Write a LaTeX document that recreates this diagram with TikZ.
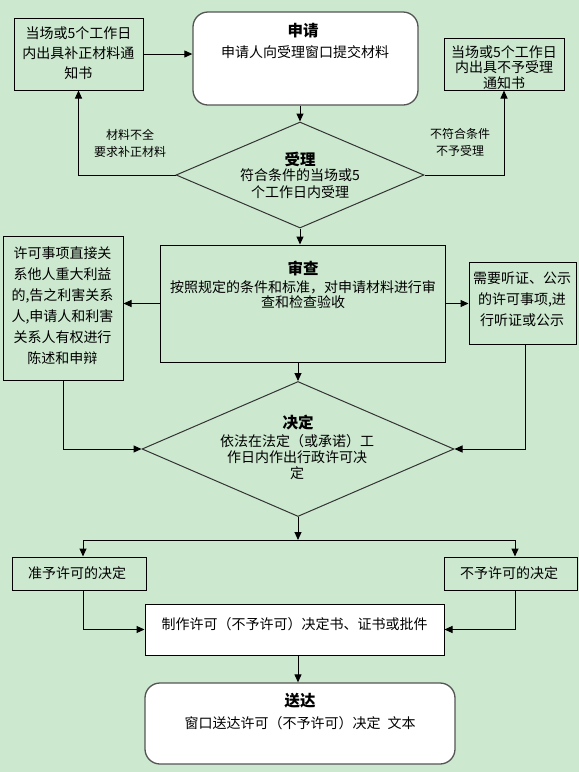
\documentclass[tikz,border=0pt]{standalone}
\usepackage{fontspec}
\newfontfamily\cjk{Noto Sans CJK SC}
\usetikzlibrary{arrows.meta,shapes.geometric,calc}
\definecolor{bg}{HTML}{CCE8CF}
\definecolor{rbord}{HTML}{555555}
\definecolor{dline}{HTML}{333333}
\begin{document}
\begin{tikzpicture}[x=1pt,y=-1pt,
  sbox/.style={draw=black, line width=1pt, inner sep=0pt, rectangle},
  rbox/.style={draw=rbord, line width=1.3pt, fill=white, inner sep=0pt, rectangle, rounded corners=15pt},
  dia/.style={draw=dline, line width=1pt, diamond, inner sep=0pt, aspect=1},
  arr/.style={draw=black, line width=1pt, -{Triangle[length=8pt,width=7pt]}},
  plain/.style={draw=black, line width=1pt},
  txt/.style={font=\cjk\fontsize{14pt}{20pt}\selectfont, align=center, inner sep=0pt},
  ttl/.style={font=\cjk\bfseries\fontsize{15.5pt}{18pt}\selectfont, align=center, inner sep=0pt},
  lbl/.style={font=\cjk\fontsize{12pt}{17pt}\selectfont, align=center, inner sep=0pt}]
\fill[bg] (0,0) rectangle (579,772);
\useasboundingbox (0,0) rectangle (579,772);

% shapes
\node[sbox, minimum width=129pt, minimum height=72pt] (lb) at (78.5,54) {};
\node[rbox, minimum width=225pt, minimum height=93pt] (sq) at (305.5,58.5) {};
\node[sbox, minimum width=120pt, minimum height=52pt] (rb) at (504,64) {};
\node[dia, minimum width=248pt, minimum height=106pt] (d1) at (300,175) {};
\node[sbox, minimum width=285pt, minimum height=117pt] (sc) at (302.5,303.5) {};
\node[sbox, minimum width=120pt, minimum height=144pt] (lr) at (63,308) {};
\node[sbox, minimum width=107pt, minimum height=82pt] (rr) at (522.5,303) {};
\node[dia, minimum width=312pt, minimum height=135pt] (d2) at (298,449) {};
\node[sbox, minimum width=134pt, minimum height=33pt] (zy) at (79,573.5) {};
\node[sbox, minimum width=133pt, minimum height=33pt] (by) at (510.5,573.5) {};
\node[sbox, fill=white, minimum width=299pt, minimum height=51pt] (zz) at (294.5,629.5) {};
\node[rbox, minimum width=310pt, minimum height=81pt] (sd) at (300,723.5) {};

% texts
\node[txt] (tlb) at (78.5,53) {当场或5个工作日\\内出具补正材料通\\知书};
\node[ttl] (tsq1) at (303,31) {申请};
\node[txt] (tsq2) at (305,52) {申请人向受理窗口提交材料};
\node[txt, font=\cjk\fontsize{14pt}{15.5pt}\selectfont] (trb) at (504,67.5) {当场或5个工作日\\内出具不予受理\\通知书};
\node[lbl] (tl1) at (130,143.5) {材料不全\\要求补正材料};
\node[lbl] (tl2) at (460,142.5) {不符合条件\\不予受理};
\node[ttl] (td1a) at (300,159) {受理};
\node[txt, font=\cjk\fontsize{14pt}{17pt}\selectfont] (td1b) at (300,183.5) {符合条件的当场或5\\个工作日内受理};
\node[ttl] (tsc1) at (303,268) {审查};
\node[txt, font=\cjk\fontsize{14pt}{15.5pt}\selectfont] (tsc2) at (303,294.5) {按照规定的条件和标准，对申请材料进行审\\查和检查验收};
\node[txt, font=\cjk\fontsize{14pt}{21pt}\selectfont] (tlr) at (62.5,305.5) {许可事项直接关\\系他人重大利益\\的,告之利害关系\\人,申请人和利害\\关系人有权进行\\陈述和申辩};
\node[txt, font=\cjk\fontsize{14pt}{21pt}\selectfont] (trr) at (522,299) {需要听证、公示\\的许可事项,进\\行听证或公示};
\node[ttl] (td2a) at (298,423) {决定};
\node[txt, font=\cjk\fontsize{14pt}{16pt}\selectfont] (td2b) at (297,457) {依法在法定（或承诺）工\\作日内作出行政许可决\\定};
\node[txt] (tzy) at (77,573) {准予许可的决定};
\node[txt] (tby) at (509,573) {不予许可的决定};
\node[txt] (tzz) at (294.5,624) {制作许可（不予许可）决定书、证书或批件};
\node[ttl] (tsd1) at (300,701) {送达};
\node[txt] (tsd2) at (300,723) {窗口送达许可（不予许可）决定\hspace{0.5em}文本};

% connectors
\draw[arr] (lb.east) -- (sq.west |- lb.east);
\draw[arr] (sq.south -| d1.north) -- (d1.north);
\draw[arr] (d1.west) -| (lb.south);
\draw[arr] (d1.east) -| (rb.south);
\draw[arr] (d1.south) -- (d1.south |- sc.north);
\draw[arr] (sc.west) -- (sc.west -| lr.east);
\draw[arr] (sc.east) -- (sc.east -| rr.west);
\draw[arr] (sc.south -| d2.north) -- (d2.north);
\draw[arr] (lr.south) |- (d2.west);
\draw[arr] ([xshift=3pt]rr.south) |- (d2.east);
\coordinate (jc) at (298,540);
\coordinate (jl) at (83,540);
\coordinate (jr) at (515,540);
\draw[arr] (d2.south) -- (jc);
\draw[plain] (jl) -- (jr);
\draw[arr] (jl) -- (jl |- zy.north);
\draw[arr] (jr) -- (jr |- by.north);
\draw[arr] (jl |- zy.south) |- (zz.west);
\draw[arr] (jr |- by.south) |- (zz.east);
\draw[arr] ([xshift=3.5pt]zz.south) -- ([xshift=3.5pt]zz.south |- sd.north);
\end{tikzpicture}
\end{document}
